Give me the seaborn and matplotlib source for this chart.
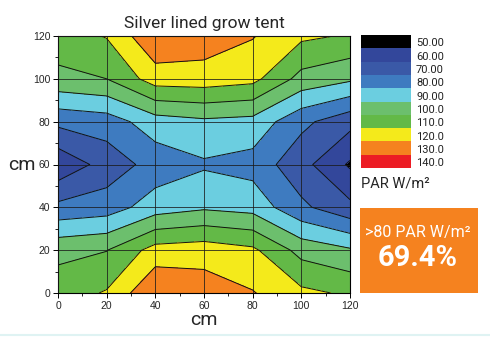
import numpy as np
import pandas as pd
import matplotlib
matplotlib.use("Agg")
import matplotlib.pyplot as plt
from matplotlib.colors import ListedColormap, BoundaryNorm
from matplotlib.lines import Line2D
from matplotlib.patches import Rectangle
from matplotlib.ticker import MultipleLocator
import seaborn as sns

# ---- data (grid positions in cm and PAR readings, W/m²) ----
x_cm = [0, 20, 40, 60, 80, 100, 120]
y_cm = [0, 20, 40, 60, 80, 100, 120]
par_y0 = [115.1, 120.9, 139.5, 135.5, 130.6, 122.3, 118.5]
par_y20 = [107.3, 109.7, 124.0, 125.5, 122.0, 106.5, 101.3]
par_y40 = [82.7, 85.0, 95.0, 98.5, 96.4, 82.1, 72.5]
par_y60 = [62.3, 74.1, 84.0, 88.7, 86.1, 73.5, 58.6]
par_y80 = [82.6, 85.0, 95.4, 98.1, 96.7, 82.6, 73.3]
par_y100 = [107.4, 110.0, 124.9, 125.5, 123.0, 106.6, 101.7]
par_y120 = [115.4, 120.6, 138.9, 135.7, 130.6, 122.0, 119.0]

levels = [50, 60, 70, 80, 90, 100, 110, 120, 130, 140, 150]
level_labels = ["50.00", "60.00", "70.00", "80.00", "90.00",
                "100.0", "110.0", "120.0", "130.0", "140.0"]
level_colors = ["#000000", "#33479b", "#3a59a7", "#3e7bc0", "#6bcee0",
                "#6cbf6d", "#63b947", "#f4ea1b", "#f5821f", "#ec1c24"]
title = "Silver lined grow tent"
unit_label = "PAR W/m²"
box_line1 = ">80 PAR W/m²"
box_line2 = "69.4%"

sns.set_style("white")
plt.rcParams["font.family"] = ["Liberation Sans", "DejaVu Sans"]

grid = pd.DataFrame([par_y0, par_y20, par_y40, par_y60, par_y80, par_y100, par_y120],
                    index=y_cm, columns=x_cm)

W, H = 490, 337
fig = plt.figure(figsize=(W / 100, H / 100), dpi=100)
ax = fig.add_axes([58 / W, 1 - 293 / H, 292 / W, 257 / H])

cmap = ListedColormap(level_colors)
norm = BoundaryNorm(levels, cmap.N)
X, Y = np.meshgrid(grid.columns.values, grid.index.values)
ax.contourf(X, Y, grid.values, levels=levels, cmap=cmap, norm=norm)
ax.contour(X, Y, grid.values, levels=levels, colors="#111111", linewidths=0.7)

ax.set_xlim(0, 120)
ax.set_ylim(0, 120)
ax.xaxis.set_major_locator(MultipleLocator(20))
ax.yaxis.set_major_locator(MultipleLocator(20))
ax.xaxis.set_minor_locator(MultipleLocator(10))
ax.yaxis.set_minor_locator(MultipleLocator(10))
ax.grid(True, which="major", color="#1a1a1a", linewidth=0.7, alpha=0.8)
ax.set_axisbelow(False)
ax.tick_params(which="major", direction="out", length=3.5, width=0.7,
               labelsize=7.5, color="black", pad=2, bottom=True, left=True)
ax.tick_params(which="minor", direction="out", length=2, width=0.6,
               color="black", bottom=True, left=True)
for s in ax.spines.values():
    s.set_color("black")
    s.set_linewidth(0.8)

ax.set_title(title, fontsize=12.5, family=["Roboto", "DejaVu Sans"], pad=6)
ax.set_xlabel("cm", fontsize=14, family=["Roboto", "DejaVu Sans"], labelpad=0)
ax.set_ylabel("cm", fontsize=14, family=["Roboto", "DejaVu Sans"],
              rotation=0, labelpad=8, va="center")

# ---- legend colour bar ----
cax = fig.add_axes([361 / W, 1 - 168 / H, 50 / W, 133 / H])
bar = pd.DataFrame({"v": [levels[i] + 5 for i in range(len(level_colors))]})
sns.heatmap(bar, ax=cax, cmap=cmap, norm=norm, cbar=False,
            xticklabels=False, yticklabels=False)
cax.set_xlabel("")
cax.set_ylabel("")
for i, lab in enumerate(level_labels):
    fig.text(416 / W, 1 - (35 + 13.3 * i + 8.5) / H, lab, fontsize=8,
             va="center", ha="left", family=["Roboto", "DejaVu Sans"], color="#222222")
fig.text(361 / W, 1 - 183 / H, unit_label, fontsize=10.5, va="center", ha="left",
         family=["Roboto", "DejaVu Sans"])

# ---- orange summary box ----
fig.add_artist(Rectangle((360 / W, 1 - 293 / H), 118 / W, 85 / H,
                         transform=fig.transFigure, facecolor="#f5821f",
                         edgecolor="none"))
fig.text(418 / W, 1 - 232 / H, box_line1, fontsize=11.5, color="white",
         ha="center", va="center", family=["Roboto", "DejaVu Sans"])
fig.text(418 / W, 1 - 258 / H, box_line2, fontsize=21, color="white",
         ha="center", va="center", weight="bold", family=["Roboto", "DejaVu Sans"])

fig.add_artist(Line2D([0, 1], [1 - 334.5 / H, 1 - 334.5 / H],
                      transform=fig.transFigure, color="#dff3f3", lw=1.5))

fig.savefig("out.png", dpi=100)
